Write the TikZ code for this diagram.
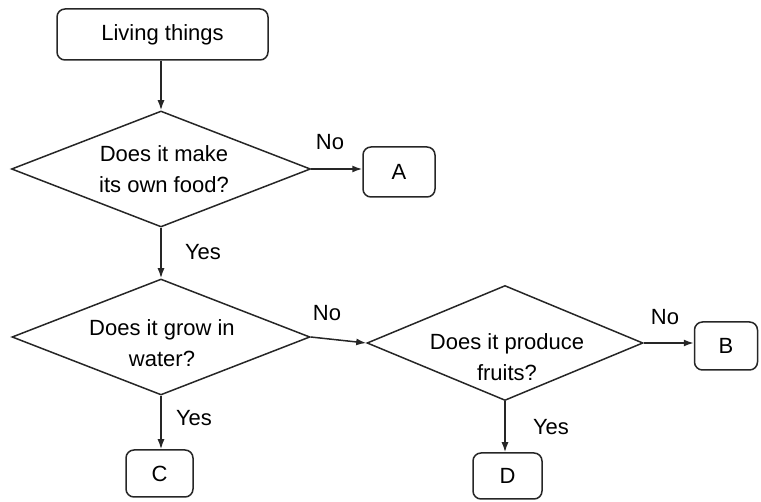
\documentclass[tikz,border=0pt]{standalone}
\usepackage{fontspec}
\setmainfont{Liberation Sans}
\usetikzlibrary{shapes.geometric,arrows.meta}
\begin{document}
\begin{tikzpicture}[x=1pt,y=-1pt,
  ink/.style={draw=black!85,line width=1.5pt},
  rbox/.style={ink,rounded corners=8pt,inner sep=0pt},
  dec/.style={ink,shape=diamond,inner sep=0pt},
  txt/.style={font=\fontsize{22}{31}\selectfont,align=center,inner sep=0pt,text=black},
  arr/.style={ink,-{Latex[length=10pt,width=7pt]}},
  lbl/.style={font=\fontsize{22}{26}\selectfont,inner sep=0pt,text=black}]
\useasboundingbox (0,0) rectangle (761,502);
% boxes
\node[rbox,minimum width=211pt,minimum height=51pt,txt] (top) at (162.5,34.5) {Living things};
\node[rbox,minimum width=72pt,minimum height=50pt,txt] (A) at (399,172) {A};
\node[rbox,minimum width=63pt,minimum height=48pt,txt] (B) at (726,346) {B};
\node[rbox,minimum width=67pt,minimum height=47pt,txt] (C) at (159.5,473.5) {C};
\node[rbox,minimum width=69pt,minimum height=46pt,txt] (D) at (507.5,476) {D};
% diamonds
\node[dec,minimum width=299pt,minimum height=116pt] (d1) at (161,169) {};
\node[dec,minimum width=298pt,minimum height=116pt] (d2) at (161,337) {};
\node[dec,minimum width=276pt,minimum height=115pt] (d3) at (505,343) {};
\node[txt] (t1) at (164,169) {Does it make\\its own food?};
\node[txt] (t2) at (162,343) {Does it grow in\\water?};
\node[txt] (t3) at (507,357) {Does it produce\\fruits?};
% connectors
\draw[arr] (top.south -| d1.north) -- (d1.north);
\draw[arr] (d1.east) -- (A.west |- d1.east);
\draw[arr] (d1.south) -- (d2.north);
\draw[arr] (d2.east) -- (d3.west);
\draw[arr] (d3.east) -- (B.west |- d3.east);
\draw[arr] (d2.south) -- (C.north -| d2.south);
\draw[arr] (d3.south) -- (D.north -| d3.south);
% labels
\node[lbl] (n1) at (330,142) {No};
\node[lbl] (y1) at (203,252) {Yes};
\node[lbl] (n2) at (327,313) {No};
\node[lbl] (y2) at (194,418) {Yes};
\node[lbl] (n3) at (665,317) {No};
\node[lbl] (y3) at (551,427) {Yes};
\end{tikzpicture}
\end{document}
